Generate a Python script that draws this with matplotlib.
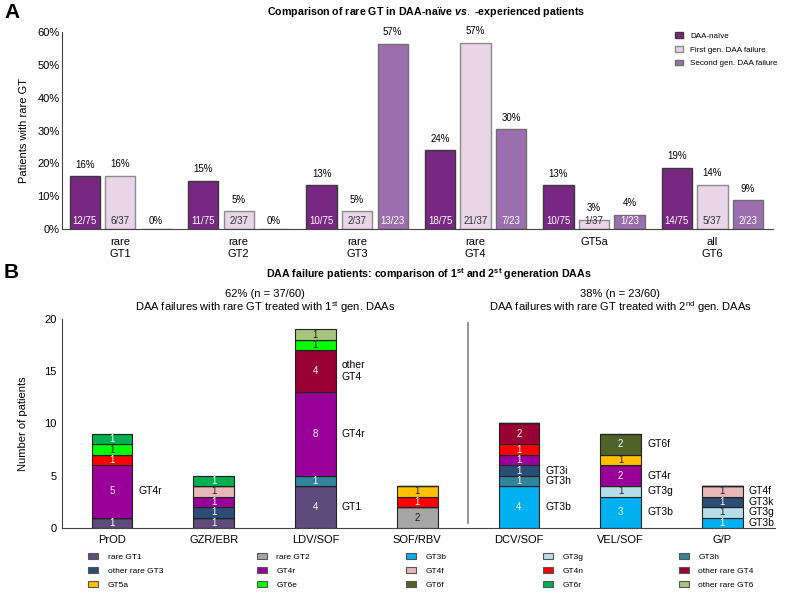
import numpy as np
import matplotlib
matplotlib.use('Agg')
import matplotlib.pyplot as plt
from matplotlib.patches import Patch

plt.rcParams['font.family'] = ['Liberation Sans', 'DejaVu Sans']
plt.rcParams['mathtext.fontset'] = 'custom'
plt.rcParams['mathtext.rm'] = 'Liberation Sans'
plt.rcParams['mathtext.it'] = 'Liberation Sans:italic:bold'
plt.rcParams['mathtext.bf'] = 'Liberation Sans:bold'

# ---- panel A data
groups_a = ['rare\nGT1', 'rare\nGT2', 'rare\nGT3', 'rare\nGT4', 'GT5a', 'all\nGT6']
naive_n = [12, 11, 10, 18, 10, 14]
first_n = [6, 2, 2, 21, 1, 5]
second_n = [0, 0, 13, 7, 1, 2]
totals = [75, 37, 23]
series_names = ['DAA-naïve', 'First gen. DAA failure', 'Second gen. DAA failure']

# ---- panel B data
regimens = ['PrOD', 'GZR/EBR', 'LDV/SOF', 'SOF/RBV', 'DCV/SOF', 'VEL/SOF', 'G/P']
genotypes = ['rare GT1', 'rare GT2', 'GT3b', 'GT3g', 'GT3h',
             'other rare GT3', 'GT4r', 'GT4f', 'GT4n', 'other rare GT4',
             'GT5a', 'GT6e', 'GT6f', 'GT6r', 'other rare GT6']
counts = np.array([
    [1, 1, 4, 0, 0, 0, 0],   # rare GT1
    [0, 0, 0, 2, 0, 0, 0],   # rare GT2
    [0, 0, 0, 0, 4, 3, 1],   # GT3b
    [0, 0, 0, 0, 0, 1, 1],   # GT3g
    [0, 0, 1, 0, 1, 0, 0],   # GT3h
    [0, 1, 0, 0, 1, 0, 1],   # other rare GT3
    [5, 1, 8, 0, 1, 2, 0],   # GT4r
    [0, 1, 0, 0, 0, 0, 1],   # GT4f
    [1, 0, 0, 1, 1, 0, 0],   # GT4n
    [0, 0, 4, 0, 2, 0, 0],   # other rare GT4
    [0, 0, 0, 1, 0, 1, 0],   # GT5a
    [1, 0, 1, 0, 0, 0, 0],   # GT6e
    [0, 0, 0, 0, 0, 2, 0],   # GT6f
    [1, 1, 0, 0, 0, 0, 0],   # GT6r
    [0, 0, 1, 0, 0, 0, 0],   # other rare GT6
])
side_labels = [(0, 'GT4r', 'GT4r'), (2, 'rare GT1', 'GT1'), (2, 'GT4r', 'GT4r'),
               (2, 'other rare GT4', 'other\nGT4'),
               (4, 'GT3b', 'GT3b'), (4, 'GT3h', 'GT3h'), (4, 'other rare GT3', 'GT3i'),
               (5, 'GT3b', 'GT3b'), (5, 'GT3g', 'GT3g'), (5, 'GT4r', 'GT4r'), (5, 'GT6f', 'GT6f'),
               (6, 'GT3b', 'GT3b'), (6, 'GT3g', 'GT3g'), (6, 'other rare GT3', 'GT3k'),
               (6, 'GT4f', 'GT4f')]

geno_colors = ['#5f4a7c', '#a6a6a6', '#00b0f0', '#b7dee8', '#31849b',
               '#2c4d75', '#990099', '#e6b8b7', '#ff0000', '#990033',
               '#ffc000', '#00ff00', '#4f6228', '#00b050', '#a9c47f']
dark_text = ['rare GT2', 'GT3g', 'GT4f', 'GT5a', 'GT6e', 'other rare GT6']

fig = plt.figure(figsize=(7.87, 5.96), dpi=100)

# ================= Panel A
axA = fig.add_axes([0.079, 0.616, 0.903, 0.330])
colors_a = ['#782883', '#e8d5e8', '#9b6fae']
edges_a = ['#3a3a3a', '#8c8c8c', '#6e6e6e']
inner_col = ['white', '#333333', 'white']
x = np.arange(len(groups_a))
w = 0.255
for k, ns in enumerate([naive_n, first_n, second_n]):
    vals = np.array(ns) / totals[k]
    pos = x + (k - 1) * 0.3
    axA.bar(pos, vals, w, color=colors_a[k], edgecolor=edges_a[k], linewidth=1.0,
            label=series_names[k])
    for p, v, n in zip(pos, vals, ns):
        if n == 0:
            axA.text(p, 0.008, '0%', ha='center', va='bottom', fontsize=7)
            continue
        axA.text(p, v + 0.02, f'{round(v * 100)}%', ha='center', va='bottom', fontsize=7)
        axA.text(p, 0.008, f'{n}/{totals[k]}', ha='center', va='bottom', fontsize=7,
                 color=inner_col[k])
axA.set_xlim(-0.49, 5.51)
axA.set_ylim(0, 0.6)
axA.set_yticks(np.arange(0, 0.61, 0.1))
axA.set_yticklabels([f'{int(round(t * 100))}%' for t in np.arange(0, 0.61, 0.1)], fontsize=8)
axA.set_xticks(x)
axA.set_xticklabels(groups_a, fontsize=8, va='top')
axA.tick_params(axis='x', length=0, pad=6)
axA.tick_params(axis='y', length=0, pad=2)
axA.set_ylabel('Patients with rare GT', fontsize=8, labelpad=6)
for s in ['top', 'right']:
    axA.spines[s].set_visible(False)
for s in ['left', 'bottom']:
    axA.spines[s].set_color('#444444')
axA.legend(loc='upper left', bbox_to_anchor=(672 / 787, 1 - 29 / 596),
           bbox_transform=fig.transFigure, fontsize=5.8, frameon=False, borderaxespad=0,
           handlelength=1.0, handleheight=0.7, handletextpad=0.85, labelspacing=0.75)

fig.text(4 / 787, 1 - 12 / 596, 'A', fontsize=15, fontweight='bold', ha='left', va='center')
fig.text(426 / 787, 1 - 12 / 596,
         r'Comparison of rare GT in DAA-naïve $\it{vs.}$ -experienced patients',
         fontsize=7.7, fontweight='bold', ha='center', va='center')

# ================= Panel B
axB = fig.add_axes([0.079, 0.114, 0.906, 0.351])
xb = np.arange(len(regimens))
wb = 0.4
bottom = np.zeros(len(regimens))
seg_mid = {}
for g, name in enumerate(genotypes):
    vals = counts[g]
    axB.bar(xb, vals, wb, bottom=bottom, color=geno_colors[g], edgecolor='#222222',
            linewidth=0.8)
    for i, v in enumerate(vals):
        if v > 0:
            mid = bottom[i] + v / 2
            seg_mid[(i, name)] = mid
            axB.text(xb[i], mid, str(v), ha='center', va='center', fontsize=7,
                     color='#222222' if name in dark_text else 'white')
    bottom += vals
for i, name, txt in side_labels:
    axB.text(xb[i] + wb / 2 + 0.06, seg_mid[(i, name)], txt, ha='left', va='center',
             fontsize=7.5, linespacing=1.3)
axB.plot([3.5, 3.5], [0.5, 19.6], color='#808080', linewidth=1.2)
axB.set_xlim(-0.49, 6.52)
axB.set_ylim(0, 20)
axB.set_yticks([0, 5, 10, 15, 20])
axB.tick_params(axis='y', labelsize=8, length=0, pad=4)
axB.set_xticks(xb)
axB.set_xticklabels(regimens, fontsize=8)
axB.tick_params(axis='x', length=0, pad=5)
axB.set_ylabel('Number of patients', fontsize=8, labelpad=12)
for s in ['top', 'right']:
    axB.spines[s].set_visible(False)
for s in ['left', 'bottom']:
    axB.spines[s].set_color('#444444')

fig.text(4 / 787, 1 - 272 / 596, 'B', fontsize=15, fontweight='bold', ha='left', va='center')
fig.text(429 / 787, 1 - 274 / 596,
         r'DAA failure patients: comparison of 1$^{\mathbf{st}}$ and 2$^{\mathbf{st}}$ generation DAAs',
         fontsize=7.7, fontweight='bold', ha='center', va='center')
fig.text(265 / 787, 1 - 294 / 596, '62% (n = 37/60)', fontsize=8, ha='center', va='center')
fig.text(265 / 787, 1 - 307 / 596,
         'DAA failures with rare GT treated with 1$^{\\rm st}$ gen. DAAs',
         fontsize=8, ha='center', va='center')
fig.text(620 / 787, 1 - 294 / 596, '38% (n = 23/60)', fontsize=8, ha='center', va='center')
fig.text(620 / 787, 1 - 307 / 596,
         'DAA failures with rare GT treated with 2$^{\\rm nd}$ gen. DAAs',
         fontsize=8, ha='center', va='center')

# legend in five columns
col_x = [85, 254, 403, 540, 676]
for c in range(5):
    idx = [c, c + 5, c + 10]
    handles = [Patch(facecolor=geno_colors[j], edgecolor='#555555', linewidth=0.8,
                     label=genotypes[j]) for j in idx]
    fig.legend(handles=handles, loc='upper left',
               bbox_to_anchor=(col_x[c] / 787, 1 - 550 / 596), fontsize=6, frameon=False,
               handlelength=1.2, handleheight=0.7, handletextpad=1.1, labelspacing=0.75,
               borderaxespad=0)

fig.savefig('out.png', dpi=100)
